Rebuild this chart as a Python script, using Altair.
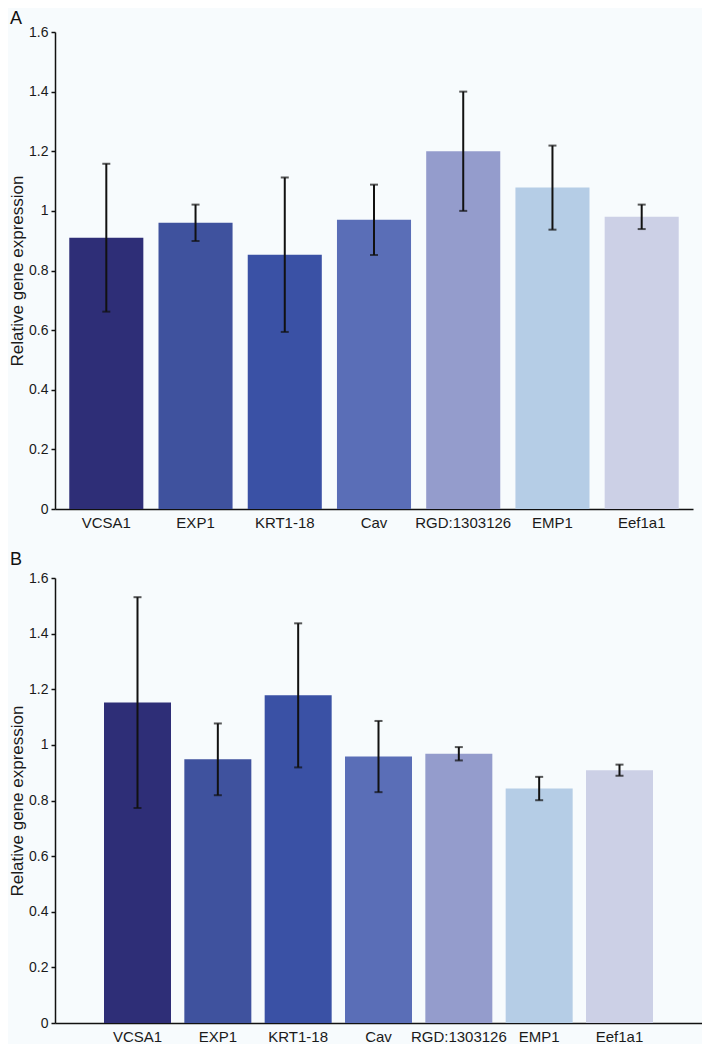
import altair as alt
import pandas as pd

genes = ["VCSA1", "EXP1", "KRT1-18", "Cav", "RGD:1303126", "EMP1", "Eef1a1"]
colors = ["#2e2e77", "#3f529e", "#3a51a5", "#5a6eb7", "#949ccc", "#b5cde6", "#ccd0e6"]

mean_a = [0.91, 0.96, 0.853, 0.97, 1.20, 1.078, 0.98]
err_a = [0.248, 0.061, 0.259, 0.118, 0.20, 0.141, 0.041]

mean_b = [1.152, 0.948, 1.178, 0.958, 0.968, 0.843, 0.909]
err_b = [0.379, 0.129, 0.259, 0.128, 0.024, 0.042, 0.020]

y_ticks = [0, 0.2, 0.4, 0.6, 0.8, 1.0, 1.2, 1.4, 1.6]

FONT = "Liberation Sans"


def panel(means, errs, label, width, height, pin, pout, title_offset):
    df = pd.DataFrame({
        "gene": genes,
        "value": means,
        "low": [m - e for m, e in zip(means, errs)],
        "high": [m + e for m, e in zip(means, errs)],
        "color": colors,
    })
    x = alt.X(
        "gene:N", sort=genes,
        scale=alt.Scale(paddingInner=pin, paddingOuter=pout),
        axis=alt.Axis(title=None, labelAngle=0, ticks=False, tickSize=0,
                      labelPadding=6, labelFontSize=15, labelColor="#1a1a1a",
                      domainColor="#111111", domainWidth=1.5, labelFont=FONT),
    )
    y_axis = alt.Axis(title="Relative gene expression", values=y_ticks, format="~g",
                      grid=False, tickSize=4, tickColor="#111111", tickWidth=1.5,
                      domainColor="#111111", domainWidth=1.5, labelPadding=3,
                      labelFontSize=14, labelColor="#1a1a1a", labelFont=FONT,
                      titleFontSize=17, titleFontWeight="normal", titleColor="#1a1a1a",
                      titleFont=FONT, titlePadding=2)
    yscale = alt.Scale(domain=[0, 1.6], nice=False)
    base = alt.Chart(df)
    bars = base.mark_bar().encode(
        x=x,
        y=alt.Y("value:Q", scale=yscale, axis=y_axis),
        color=alt.Color("color:N", scale=None),
    )
    rules = base.mark_rule(color="#111111", strokeWidth=2).encode(
        x=x,
        y=alt.Y("low:Q", scale=yscale, axis=y_axis),
        y2="high:Q",
    )
    cap_hi = base.mark_tick(color="#111111", thickness=2, size=8, orient="horizontal").encode(
        x=x, y=alt.Y("high:Q", scale=yscale, axis=y_axis))
    cap_lo = base.mark_tick(color="#111111", thickness=2, size=8, orient="horizontal").encode(
        x=x, y=alt.Y("low:Q", scale=yscale, axis=y_axis))
    return alt.layer(bars, rules, cap_hi, cap_lo).properties(
        width=width, height=height,
        title=alt.TitleParams(label, anchor="start", frame="group", fontSize=18,
                              fontWeight="normal", font=FONT, color="#111111",
                              offset=title_offset, dx=-45),
    )


chart_a = panel(mean_a, err_a, "A", 638, 477, 0.17, 0.16, -3)
chart_b = panel(mean_b, err_b, "B", 647, 445, 0.166, 0.61, 2)

chart = alt.vconcat(chart_a, chart_b, spacing=21).properties(
    padding={"left": 0, "top": 2, "right": 0, "bottom": 0},
    background="#f7fbfd",
).configure_view(stroke=None)

chart.save("out.html", embed_options={"renderer": "svg", "actions": False})
